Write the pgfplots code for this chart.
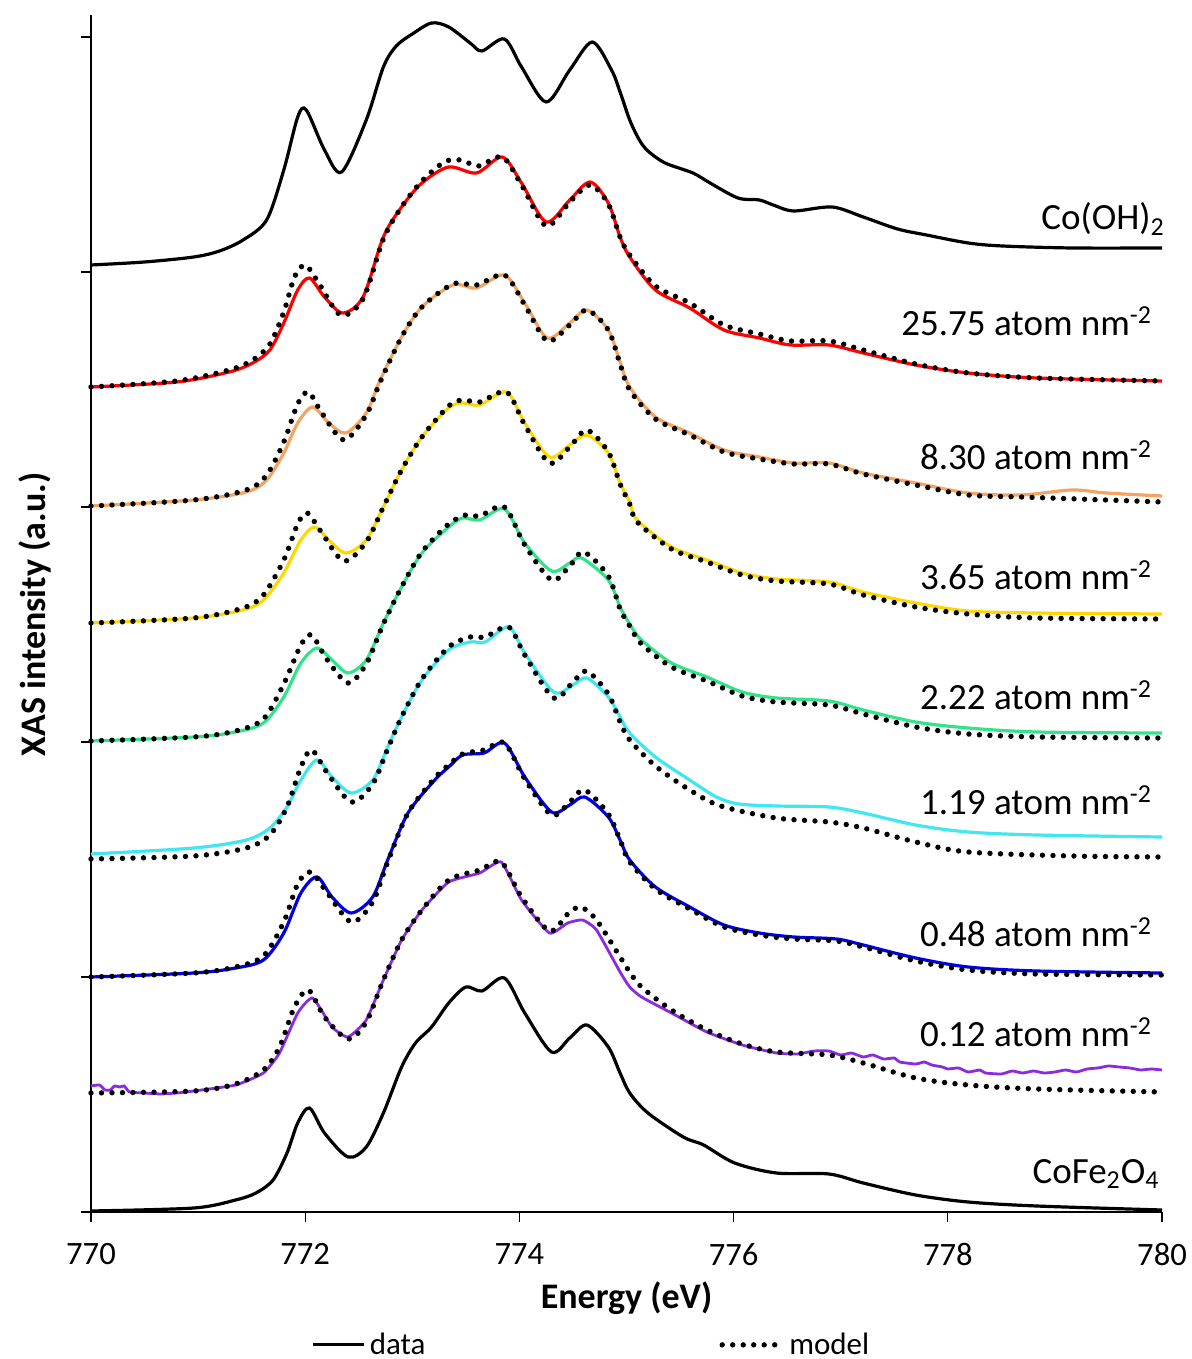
\documentclass[border=0pt]{standalone}
\usepackage{fontspec}
\setmainfont{Carlito}
\usepackage{pgfplots}
\pgfplotsset{compat=1.18}
\definecolor{cred}{HTML}{FF0000}
\definecolor{corange}{HTML}{F4A460}
\definecolor{cyellow}{HTML}{FFD700}
\definecolor{cgreen}{HTML}{33E38A}
\definecolor{ccyan}{HTML}{40E6F0}
\definecolor{cblue}{HTML}{0000E6}
\definecolor{cpurple}{HTML}{8A2BE2}
\tikzset{
  dat/.style={line width=1.6pt, smooth, tension=0.5},
  mdl/.style={black, line width=2.7pt, line cap=round, dash pattern=on 0pt off 5.25pt, smooth, tension=0.5},
}
\begin{document}
\begin{tikzpicture}
\begin{axis}[
  scale only axis, width=535.5pt, height=598.5pt,
  xmin=770, xmax=780, ymin=0, ymax=1197,
  clip=false,
  axis x line*=bottom, axis y line*=left,
  axis line style={-, line width=0.6pt},
  tick style={black, line width=0.6pt}, major tick length=5pt, tick align=outside,
  xtick={770,772,...,780}, ytick={0,235,470,705,940,1175}, yticklabels={},
  /pgf/number format/assume math mode=true,
  /pgf/number format/1000 sep={},
  xticklabel style={font=\fontsize{16.3}{19}\selectfont, yshift=-7pt},
  xlabel={\textbf{Energy (eV)}},
  xlabel style={font=\fontsize{18}{21}\selectfont, at={(axis description cs:0.5,0)}, anchor=center, yshift=-43pt},
  ylabel={\textbf{XAS intensity (a.u.)}},
  ylabel style={font=\fontsize{18}{21}\selectfont, at={(axis description cs:-0.0523,0.499)}, anchor=center},
  legend columns=2,
  legend style={draw=none, fill=none, font=\fontsize{15.5}{18}\selectfont,
    at={(axis description cs:0.2,-0.111)}, anchor=west,
    /tikz/every even column/.append style={column sep=145pt}},
]
\coordinate (SW) at (rel axis cs:0,0);
\coordinate (NE) at (rel axis cs:1,1);

% Co(OH)2
\addplot[dat, black, forget plot] coordinates {
(770.00,947) (770.50,950) (770.96,955) (771.20,961) (771.42,972) (771.64,992) (771.80,1042) (771.93,1095)
(772.01,1102) (772.18,1062) (772.34,1040) (772.57,1092) (772.73,1145) (772.85,1166) (773.00,1178) (773.18,1189)
(773.34,1185) (773.54,1169) (773.65,1161) (773.86,1173) (774.02,1145) (774.25,1110) (774.47,1142) (774.68,1170)
(774.86,1142) (774.94,1120) (775.03,1092) (775.12,1072) (775.20,1061) (775.36,1049) (775.62,1039) (775.78,1029)
(776.04,1014) (776.24,1012) (776.37,1007) (776.56,1001) (776.92,1005) (777.21,995) (777.53,983) (777.80,977)
(778.19,969) (778.51,966) (779.16,964) (780.00,964)};

% 25.75
\addplot[dat, cred, forget plot] coordinates {
(770.00,825) (770.80,830) (771.29,840) (771.51,849) (771.67,862) (771.80,889) (771.93,922) (772.04,934)
(772.18,915) (772.35,899) (772.54,915) (772.73,975) (772.90,1005) (773.09,1029) (773.34,1045) (773.60,1039)
(773.84,1055) (774.02,1029) (774.25,990) (774.47,1012) (774.66,1030) (774.83,1009) (774.94,975) (775.03,955)
(775.27,922) (775.59,904) (775.91,882) (776.24,874) (776.53,867) (776.89,867) (777.21,859) (777.70,847)
(778.19,839) (778.83,834) (780.00,831)};
\addplot[mdl, forget plot] coordinates {
(770.00,825) (770.80,831) (771.29,842) (771.51,852) (771.67,868) (771.80,900) (771.90,935) (772.00,947)
(772.12,930) (772.33,897) (772.54,913) (772.73,973) (772.90,1005) (773.09,1031) (773.30,1050) (773.45,1052)
(773.62,1046) (773.84,1055) (774.02,1027) (774.25,986) (774.47,1010) (774.66,1027) (774.83,1008) (774.94,975)
(775.03,957) (775.27,926) (775.59,909) (775.91,887) (776.24,878) (776.53,871) (776.89,871) (777.21,862)
(777.70,848) (778.19,839) (778.83,834) (780.00,831)};

% 8.30
\addplot[dat, corange, forget plot] coordinates {
(770.00,706) (770.96,712) (771.45,720) (771.64,732) (771.80,759) (771.93,789) (772.07,805) (772.22,789)
(772.38,779) (772.57,799) (772.70,832) (772.90,875) (773.09,905) (773.38,927) (773.60,924) (773.86,937)
(774.05,909) (774.26,874) (774.47,889) (774.63,902) (774.83,882) (774.94,850) (775.03,825) (775.27,795)
(775.59,779) (775.91,762) (776.24,755) (776.56,749) (776.89,749) (777.21,739) (777.70,729) (778.19,719)
(778.68,717) (779.16,722) (779.48,719) (780.00,716)};
\addplot[mdl, forget plot] coordinates {
(770.00,706) (770.96,712) (771.45,722) (771.64,737) (771.80,770) (771.93,808) (772.03,820) (772.15,800)
(772.36,772) (772.57,797) (772.70,830) (772.90,875) (773.09,905) (773.38,928) (773.60,927) (773.86,937)
(774.05,907) (774.26,871) (774.47,887) (774.63,902) (774.83,882) (774.94,848) (775.03,822) (775.27,793)
(775.59,777) (775.91,760) (776.24,753) (776.56,748) (776.89,748) (777.21,738) (777.70,727) (778.19,717)
(778.68,715) (779.48,712) (780.00,710)};

% 3.65
\addplot[dat, cyellow, forget plot] coordinates {
(770.00,589) (770.96,594) (771.42,602) (771.61,612) (771.80,639) (771.96,672) (772.09,685) (772.22,672)
(772.38,659) (772.57,672) (772.73,705) (772.90,742) (773.09,775) (773.34,804) (773.47,809) (773.63,807)
(773.88,820) (774.05,789) (774.28,755) (774.47,767) (774.63,777) (774.83,759) (774.94,729) (775.03,710)
(775.10,692) (775.42,665) (775.75,652) (776.08,639) (776.40,633) (776.89,630) (777.21,620) (777.70,609)
(778.19,601) (778.83,599) (780.00,598)};
\addplot[mdl, forget plot] coordinates {
(770.00,589) (770.96,594) (771.42,604) (771.61,617) (771.80,652) (771.93,688) (772.02,699) (772.15,680)
(772.36,651) (772.57,670) (772.73,705) (772.90,742) (773.09,775) (773.34,806) (773.47,812) (773.63,810)
(773.88,820) (774.05,787) (774.28,749) (774.47,765) (774.63,782) (774.83,760) (774.94,728) (775.03,708)
(775.10,690) (775.42,663) (775.75,650) (776.08,637) (776.40,631) (776.89,628) (777.21,617) (777.70,605)
(778.19,598) (778.83,594) (780.00,593)};

% 2.22
\addplot[dat, cgreen, forget plot] coordinates {
(770.00,471) (770.96,475) (771.35,480) (771.61,489) (771.80,515) (771.96,549) (772.11,564) (772.25,552)
(772.40,539) (772.57,552) (772.73,589) (772.90,625) (773.09,659) (773.34,685) (773.47,694) (773.63,692)
(773.86,703) (774.05,669) (774.30,641) (774.47,649) (774.58,654) (774.83,632) (774.94,605) (775.03,588)
(775.14,572) (775.42,549) (775.75,535) (776.08,520) (776.40,514) (776.89,511) (777.21,502) (777.70,490)
(778.19,484) (778.83,480) (780.00,479)};
\addplot[mdl, forget plot] coordinates {
(770.00,471) (770.96,475) (771.35,481) (771.61,493) (771.80,528) (771.96,567) (772.06,577) (772.20,553)
(772.40,529) (772.57,548) (772.73,588) (772.90,625) (773.09,660) (773.34,688) (773.50,697) (773.63,696)
(773.86,705) (774.05,667) (774.30,632) (774.47,646) (774.60,660) (774.83,636) (774.94,603) (775.03,586)
(775.14,568) (775.42,545) (775.75,531) (776.08,516) (776.40,510) (776.89,507) (777.21,498) (777.70,485)
(778.19,478) (778.83,475) (780.00,474)};

% 1.19
\addplot[dat, ccyan, forget plot] coordinates {
(770.00,358) (770.96,364) (771.45,372) (771.67,384) (771.83,405) (771.96,432) (772.11,452) (772.25,435)
(772.43,419) (772.63,432) (772.77,465) (772.90,495) (773.09,532) (773.34,562) (773.54,570) (773.68,570)
(773.90,585) (774.05,559) (774.32,520) (774.50,527) (774.63,534) (774.83,515) (774.94,495) (775.03,479)
(775.27,455) (775.59,432) (775.84,415) (776.05,408) (776.40,406) (776.89,405) (777.21,399) (777.70,387)
(778.19,380) (778.83,377) (780.00,375)};
\addplot[mdl, forget plot] coordinates {
(770.00,353) (770.96,356) (771.45,364) (771.67,377) (771.83,405) (771.96,445) (772.06,462) (772.20,440)
(772.43,410) (772.63,428) (772.77,463) (772.90,495) (773.09,533) (773.34,565) (773.54,575) (773.68,575)
(773.90,585) (774.05,557) (774.32,514) (774.50,530) (774.63,541) (774.83,518) (774.94,490) (775.03,472)
(775.27,446) (775.59,422) (775.88,406) (776.40,394) (776.89,390) (777.21,384) (777.70,370) (778.19,360)
(779.16,356) (780.00,355)};

% 0.48
\addplot[dat, cblue, forget plot] coordinates {
(770.00,235) (770.96,239) (771.35,244) (771.61,252) (771.80,279) (771.96,319) (772.11,335) (772.25,315)
(772.43,299) (772.63,315) (772.77,352) (772.96,399) (773.21,432) (773.34,445) (773.47,457) (773.67,459)
(773.86,469) (774.05,435) (774.30,400) (774.47,407) (774.61,415) (774.83,395) (774.94,372) (775.03,352)
(775.27,325) (775.59,305) (775.91,287) (776.24,279) (776.56,275) (776.96,273) (777.21,267) (777.70,254)
(778.19,245) (778.83,241) (780.00,239)};
\addplot[mdl, forget plot] coordinates {
(770.00,235) (770.96,239) (771.35,245) (771.61,256) (771.80,290) (771.93,328) (772.05,340) (772.20,320)
(772.43,290) (772.63,310) (772.77,350) (772.96,399) (773.21,434) (773.34,447) (773.47,458) (773.67,462)
(773.86,469) (774.05,433) (774.30,397) (774.47,410) (774.61,422) (774.83,398) (774.94,372) (775.03,350)
(775.27,323) (775.59,303) (775.91,285) (776.24,277) (776.56,273) (776.96,271) (777.21,265) (777.70,251)
(778.19,242) (778.83,238) (780.00,237)};

% 0.12
\addplot[dat, cpurple, line width=1.4pt, tension=0.3, forget plot] coordinates {
(770.00,126) (770.08,127) (770.13,122) (770.18,122) (770.22,126) (770.27,125) (770.31,126) (770.36,120)
(770.50,119) (770.65,118) (770.80,119) (770.96,121) (771.35,127) (771.61,139) (771.76,159) (771.93,199)
(772.07,214) (772.25,185) (772.40,175) (772.57,192) (772.73,232) (772.90,272) (773.09,302) (773.34,330)
(773.63,339) (773.83,350) (774.02,312) (774.28,279) (774.45,289) (774.59,292) (774.72,282) (774.94,240)
(775.03,225) (775.14,215) (775.42,199) (775.75,180) (776.08,167) (776.40,159) (776.60,158) (776.75,161)
(776.89,161) (777.00,157) (777.10,159) (777.21,155) (777.30,157) (777.40,153) (777.50,154) (777.55,150)
(777.70,148) (777.78,150) (777.85,147) (777.95,145) (778.00,143) (778.10,144) (778.19,140) (778.30,142)
(778.35,139) (778.50,138) (778.60,141) (778.70,139) (778.80,141) (778.90,139) (779.00,140) (779.10,142)
(779.20,140) (779.30,143) (779.40,144) (779.50,146) (779.60,145) (779.70,144) (779.80,142) (779.90,143) (780.00,142)};
\addplot[mdl, forget plot] coordinates {
(770.00,119) (770.96,121) (771.35,128) (771.61,142) (771.76,165) (771.90,205) (772.03,222) (772.18,195)
(772.40,173) (772.57,190) (772.73,232) (772.90,272) (773.09,302) (773.34,332) (773.63,342) (773.83,350)
(774.02,315) (774.28,281) (774.45,298) (774.57,305) (774.72,292) (774.94,255) (775.03,240) (775.14,225)
(775.42,202) (775.75,182) (776.08,168) (776.40,160) (776.89,157) (777.21,149) (777.70,134) (778.19,127)
(778.83,123) (780.00,120)};

% CoFe2O4
\addplot[dat, black, forget plot] coordinates {
(770.00,1) (770.96,4) (771.35,12) (771.54,19) (771.70,32) (771.83,59) (771.93,89) (772.04,104)
(772.18,79) (772.40,55) (772.57,65) (772.73,99) (772.90,145) (773.03,169) (773.18,185) (773.34,209)
(773.50,225) (773.65,221) (773.86,234) (774.05,199) (774.30,160) (774.47,174) (774.63,187) (774.83,165)
(774.94,139) (775.03,119) (775.20,99) (775.53,75) (775.72,67) (776.01,49) (776.40,39) (776.89,38)
(777.21,29) (777.70,17) (778.19,10) (778.83,6) (780.00,2)};

\addlegendimage{legend image code/.code={\draw[black, line width=1.6pt] (0pt,0pt) -- (25.5pt,0pt);}}
\addlegendentry{data}
\addlegendimage{legend image code/.code={\draw[black, line width=2.7pt, line cap=round, dash pattern=on 0pt off 5.25pt] (1.3pt,0pt) -- (31.5pt,0pt);}}
\addlegendentry{model}

\begin{scope}[every node/.style={font=\fontsize{18.5}{22}\selectfont, anchor=base east, inner sep=0pt}]
\node at (axis cs:780.03,982) {Co(OH)\textsubscript{2}};
\node at (axis cs:779.91,876) {25.75 atom nm\textsuperscript{-2}};
\node at (axis cs:779.91,742) {8.30 atom nm\textsuperscript{-2}};
\node at (axis cs:779.91,622) {3.65 atom nm\textsuperscript{-2}};
\node at (axis cs:779.91,502) {2.22 atom nm\textsuperscript{-2}};
\node at (axis cs:779.91,397) {1.19 atom nm\textsuperscript{-2}};
\node at (axis cs:779.91,265) {0.48 atom nm\textsuperscript{-2}};
\node at (axis cs:779.91,165) {0.12 atom nm\textsuperscript{-2}};
\node at (axis cs:779.98,29) {CoFe\textsubscript{2}O\textsubscript{4}};
\end{scope}
\end{axis}
\pgfresetboundingbox
\path[use as bounding box] ([xshift=-45.5pt,yshift=-73.5pt]SW) rectangle ([xshift=15pt,yshift=7.5pt]NE);
\end{tikzpicture}
\end{document}
